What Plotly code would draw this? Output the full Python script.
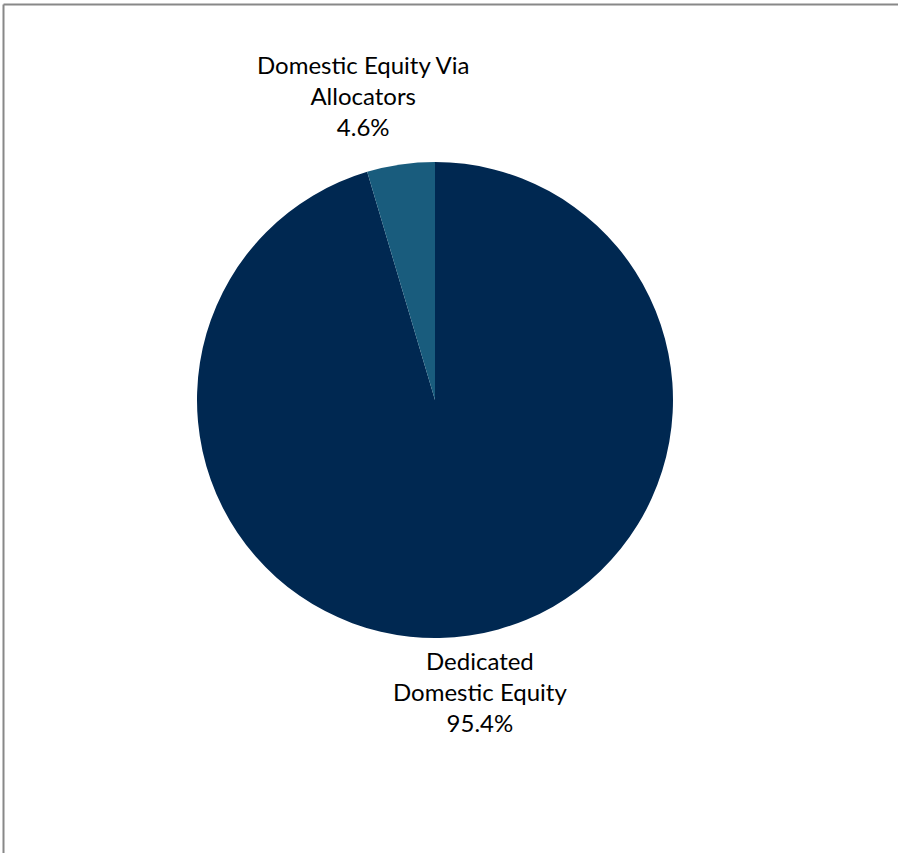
import plotly.graph_objects as go

labels = ["Dedicated Domestic Equity", "Domestic Equity Via Allocators"]
label_lines = [["Dedicated", "Domestic Equity"], ["Domestic Equity Via", "Allocators"]]
values = [95.4, 4.6]
colors = ["#002851", "#195C7D"]

W, H = 898, 853
fig = go.Figure()
fig.add_trace(go.Pie(
    labels=labels, values=values, sort=False, direction="clockwise", rotation=0,
    marker=dict(colors=colors, line=dict(width=0)),
    textinfo="none", hoverinfo="label+percent", showlegend=False,
    domain=dict(x=[(435 - 238) / W, (435 + 238) / W], y=[(453 - 238) / H, (453 + 238) / H]),
))

label_pos = [(480 / W, 1 - 644 / H), (363 / W, 1 - 48 / H)]
font = dict(family="Lato, 'Open Sans', sans-serif", size=24, color="#000000")
for lines, v, (px, py) in zip(label_lines, values, label_pos):
    txt = "<br>".join(lines + [f"{v:.1f}%"])
    fig.add_annotation(x=px, y=py, xref="paper", yref="paper", text=txt, showarrow=False,
                       xanchor="center", yanchor="top", align="center", font=font)

fig.add_shape(type="line", xref="paper", yref="paper", x0=3.5 / W, x1=1, y0=1 - 4.5 / H, y1=1 - 4.5 / H,
              line=dict(color="#888888", width=2))
fig.add_shape(type="line", xref="paper", yref="paper", x0=3.5 / W, x1=3.5 / W, y0=0, y1=1 - 4.5 / H,
              line=dict(color="#888888", width=2))

fig.update_layout(width=W, height=H, margin=dict(l=0, r=0, t=0, b=0),
                  paper_bgcolor="white", plot_bgcolor="white")
fig.write_html("out.html", config={"displayModeBar": False},
               post_script="document.body.style.margin='0';document.body.style.overflow='hidden';")
